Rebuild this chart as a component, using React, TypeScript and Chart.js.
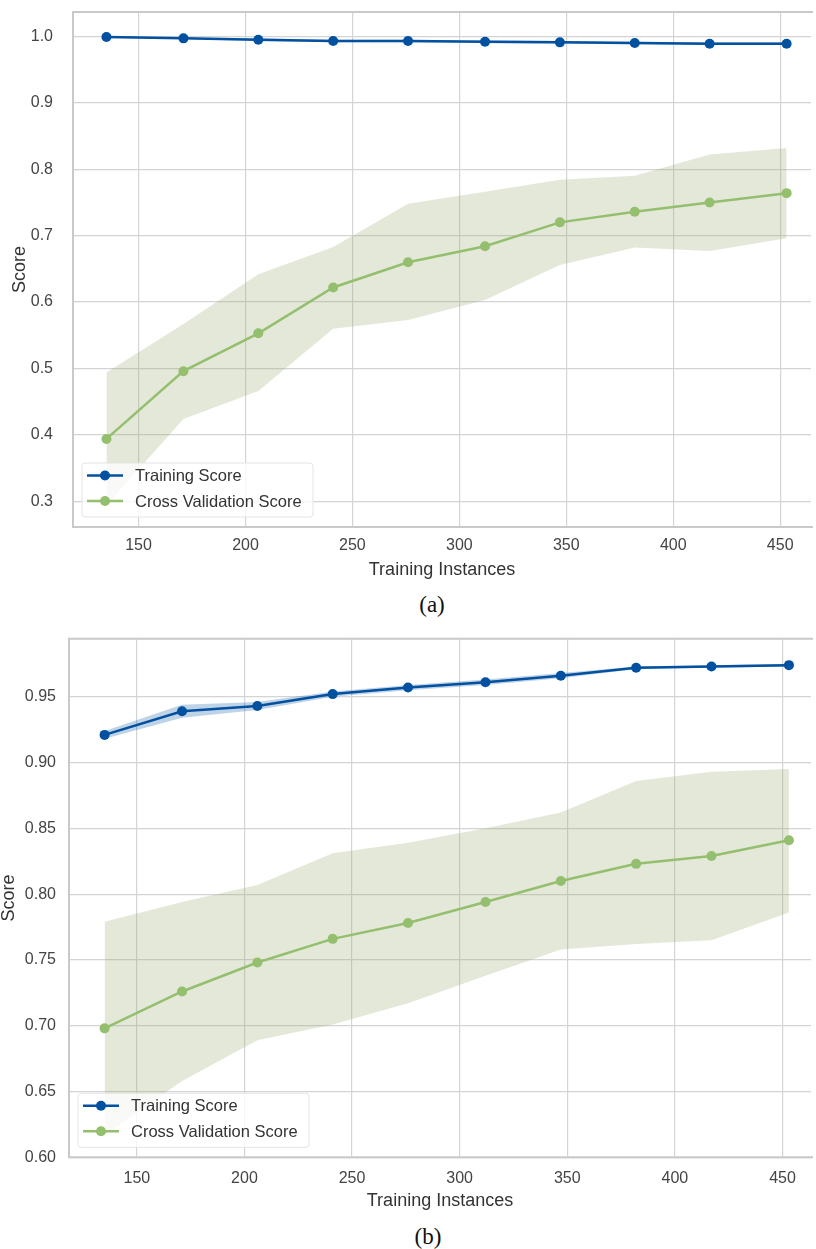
import React, { useEffect, useRef } from "react";
import { Chart, registerables } from "chart.js";

Chart.register(...registerables);

// ---------- data ----------
const SIZES = [135, 171, 206, 241, 276, 312, 347, 382, 417, 453];

const TRAIN_A = [0.999, 0.997, 0.995, 0.993, 0.993, 0.992, 0.991, 0.990, 0.989, 0.989];
const TRAIN_A_UPPER = [1.0, 0.998, 0.997, 0.995, 0.995, 0.994, 0.993, 0.992, 0.991, 0.991];
const TRAIN_A_LOWER = [0.998, 0.996, 0.993, 0.991, 0.991, 0.990, 0.989, 0.988, 0.987, 0.987];
const CV_A = [0.394, 0.496, 0.553, 0.622, 0.660, 0.684, 0.720, 0.736, 0.750, 0.764];
const CV_A_UPPER = [0.494, 0.567, 0.642, 0.683, 0.748, 0.766, 0.784, 0.790, 0.822, 0.832];
const CV_A_LOWER = [0.294, 0.424, 0.466, 0.560, 0.573, 0.603, 0.656, 0.682, 0.677, 0.696];

const TRAIN_B = [0.921, 0.939, 0.943, 0.952, 0.957, 0.961, 0.966, 0.972, 0.973, 0.974];
const TRAIN_B_UPPER = [0.924, 0.944, 0.946, 0.954, 0.959, 0.963, 0.968, 0.973, 0.974, 0.975];
const TRAIN_B_LOWER = [0.918, 0.934, 0.940, 0.950, 0.955, 0.959, 0.964, 0.971, 0.972, 0.973];
const CV_B = [0.698, 0.726, 0.748, 0.766, 0.778, 0.794, 0.810, 0.823, 0.829, 0.841];
const CV_B_UPPER = [0.779, 0.794, 0.807, 0.831, 0.839, 0.850, 0.862, 0.886, 0.893, 0.895];
const CV_B_LOWER = [0.617, 0.658, 0.689, 0.701, 0.717, 0.738, 0.758, 0.762, 0.765, 0.786];

const X_TICKS = [150, 200, 250, 300, 350, 400, 450];
const Y_TICKS_A = [0.3, 0.4, 0.5, 0.6, 0.7, 0.8, 0.9, 1.0];
const Y_TICKS_B = [0.6, 0.65, 0.7, 0.75, 0.8, 0.85, 0.9, 0.95];

const LABEL_TRAIN = "Training Score";
const LABEL_CV = "Cross Validation Score";
const X_TITLE = "Training Instances";
const Y_TITLE = "Score";

// ---------- styles ----------
const BLUE = "#0151A0";
const GREEN = "#94BF6E";
const BLUE_BAND = "rgba(1,81,160,0.25)";
const GREEN_BAND = "rgba(157,170,110,0.27)";
const FONT = "'Liberation Sans', Arial, sans-serif";
const GRID = "#D4D4D4";
const SPINE = "#C9C9C9";

const pts = (ys: number[]) => ys.map((y, i) => ({ x: SIZES[i], y }));

const frameLegendPlugin = {
  id: "frameLegend",
  afterDatasetsDraw(chart: any) {
    const { ctx, chartArea: ca } = chart;
    ctx.save();
    // spines
    ctx.strokeStyle = SPINE;
    ctx.lineWidth = 2;
    ctx.beginPath();
    ctx.moveTo(ca.right + 2, ca.top);
    ctx.lineTo(ca.left, ca.top);
    ctx.lineTo(ca.left, ca.bottom);
    ctx.lineTo(ca.right + 2, ca.bottom);
    ctx.stroke();

    // legend
    const items = [
      { label: LABEL_TRAIN, color: BLUE },
      { label: LABEL_CV, color: GREEN },
    ];
    const w = 231;
    const h = 54;
    const x = ca.left + 9;
    const y = ca.bottom - 10 - h;
    ctx.beginPath();
    if ((ctx as any).roundRect) (ctx as any).roundRect(x, y, w, h, 3);
    else ctx.rect(x, y, w, h);
    ctx.fillStyle = "rgba(255,255,255,0.8)";
    ctx.fill();
    ctx.strokeStyle = "#E4E4E4";
    ctx.lineWidth = 1;
    ctx.stroke();

    items.forEach((it, i) => {
      const ry = y + 12.5 + i * 25.5;
      ctx.strokeStyle = it.color;
      ctx.lineWidth = 2.5;
      ctx.beginPath();
      ctx.moveTo(x + 5, ry);
      ctx.lineTo(x + 41, ry);
      ctx.stroke();
      ctx.fillStyle = it.color;
      ctx.beginPath();
      ctx.arc(x + 23, ry, 5, 0, Math.PI * 2);
      ctx.fill();
      ctx.fillStyle = "#333333";
      ctx.font = `16.5px ${FONT}`;
      ctx.textBaseline = "middle";
      ctx.textAlign = "left";
      ctx.fillText(it.label, x + 53, ry + 1);
    });
    ctx.restore();
  },
};

type Cfg = {
  height: number;
  padTop: number;
  padBottom: number;
  yWidth: number;
  xHeight: number;
  xMin: number;
  xMax: number;
  yMin: number;
  yMax: number;
  yTicks: number[];
  yDecimals: number;
  yTickPad: number;
  xTickPad: number;
  yTitlePad: number;
  train: number[];
  trainUpper: number[];
  trainLower: number[];
  cv: number[];
  cvUpper: number[];
  cvLower: number[];
};

function CurveChart({ cfg }: { cfg: Cfg }) {
  const ref = useRef<HTMLCanvasElement | null>(null);
  useEffect(() => {
    if (!ref.current) return;
    const lineDs = (label: string, data: number[], color: string) => ({
      label,
      data: pts(data),
      borderColor: color,
      backgroundColor: color,
      pointBackgroundColor: color,
      pointBorderColor: color,
      pointBorderWidth: 0,
      pointRadius: 5,
      borderWidth: 2.5,
      fill: false,
      order: 0,
    });
    const bandDs = (data: number[], color: string, fill: any) => ({
      label: "",
      data: pts(data),
      borderColor: "transparent",
      backgroundColor: color,
      borderWidth: 0,
      pointRadius: 0,
      fill,
      order: 5,
    });
    const chart = new Chart(ref.current, {
      type: "line",
      data: {
        datasets: [
          lineDs(LABEL_CV, cfg.cv, GREEN),
          lineDs(LABEL_TRAIN, cfg.train, BLUE),
          bandDs(cfg.cvUpper, GREEN_BAND, "+1"),
          bandDs(cfg.cvLower, GREEN_BAND, false),
          bandDs(cfg.trainUpper, BLUE_BAND, "+1"),
          bandDs(cfg.trainLower, BLUE_BAND, false),
        ] as any,
      },
      options: {
        animation: false,
        responsive: false,
        devicePixelRatio: 1,
        layout: { padding: { left: 0, right: 0, top: cfg.padTop, bottom: cfg.padBottom } },
        plugins: {
          legend: { display: false },
          tooltip: { enabled: false },
        },
        elements: { line: { tension: 0 } },
        scales: {
          x: {
            type: "linear",
            min: cfg.xMin,
            max: cfg.xMax,
            afterBuildTicks: (s: any) => {
              s.ticks = X_TICKS.map((v) => ({ value: v }));
            },
            afterFit: (s: any) => {
              s.height = cfg.xHeight;
            },
            grid: { color: GRID, lineWidth: 1.2, drawTicks: true, tickLength: cfg.xTickPad, tickColor: "transparent" },
            border: { display: false },
            ticks: {
              padding: 0,
              color: "#444444",
              font: { family: FONT, size: 16 },
              maxRotation: 0,
              autoSkip: false,
              callback: (v: any) => String(v),
            },
            title: {
              display: true,
              text: X_TITLE,
              color: "#333333",
              font: { family: FONT, size: 18, lineHeight: 1 },
              padding: { top: 0, bottom: 0 },
            },
          },
          y: {
            type: "linear",
            min: cfg.yMin,
            max: cfg.yMax,
            afterBuildTicks: (s: any) => {
              s.ticks = cfg.yTicks.map((v) => ({ value: v }));
            },
            afterFit: (s: any) => {
              s.width = cfg.yWidth;
            },
            grid: { color: GRID, lineWidth: 1.2, drawTicks: true, tickLength: cfg.yTickPad, tickColor: "transparent" },
            border: { display: false },
            ticks: {
              padding: 0,
              color: "#444444",
              font: { family: FONT, size: 16 },
              autoSkip: false,
              callback: (v: any) => Number(v).toFixed(cfg.yDecimals),
            },
            title: {
              display: true,
              text: Y_TITLE,
              color: "#333333",
              font: { family: FONT, size: 18, lineHeight: 1 },
              padding: { top: cfg.yTitlePad, bottom: 0 },
            },
          },
        },
      } as any,
      plugins: [frameLegendPlugin as any],
    });
    return () => chart.destroy();
  }, [cfg]);
  return <canvas ref={ref} width={816} height={cfg.height} style={{ display: "block" }} />;
}

const CFG_A: Cfg = {
  height: 580,
  padTop: 12,
  padBottom: 1.2,
  yWidth: 73,
  xHeight: 51.8,
  xMin: 119.36,
  xMax: 464.4,
  yMin: 0.2614,
  yMax: 1.0367,
  yTicks: Y_TICKS_A,
  yDecimals: 1,
  yTickPad: 20,
  xTickPad: 9,
  yTitlePad: 11,
  train: TRAIN_A,
  trainUpper: TRAIN_A_UPPER,
  trainLower: TRAIN_A_LOWER,
  cv: CV_A,
  cvUpper: CV_A_UPPER,
  cvLower: CV_A_LOWER,
};

const CFG_B: Cfg = {
  height: 590,
  padTop: 18.7,
  padBottom: 0,
  yWidth: 69,
  xHeight: 52.7,
  xMin: 118.47,
  xMax: 463.25,
  yMin: 0.6,
  yMax: 0.9941,
  yTicks: Y_TICKS_B,
  yDecimals: 2,
  yTickPad: 13,
  xTickPad: 11.4,
  yTitlePad: 0,
  train: TRAIN_B,
  trainUpper: TRAIN_B_UPPER,
  trainLower: TRAIN_B_LOWER,
  cv: CV_B,
  cvUpper: CV_B_UPPER,
  cvLower: CV_B_LOWER,
};

const captionStyle = (cx: number, cy: number): React.CSSProperties => ({
  position: "absolute",
  left: cx - 50,
  top: cy - 12,
  width: 100,
  textAlign: "center",
  fontFamily: "'Liberation Serif', 'Times New Roman', serif",
  fontSize: 23,
  lineHeight: "24px",
  color: "#111",
});

export default function App() {
  return (
    <div style={{ position: "absolute", left: 0, top: 0, width: 816, height: 1249, background: "#fff", overflow: "hidden" }}>
      <div style={{ position: "absolute", left: 0, top: 0 }}>
        <CurveChart cfg={CFG_A} />
      </div>
      <div style={captionStyle(432, 605)}>(a)</div>
      <div style={{ position: "absolute", left: 0, top: 620 }}>
        <CurveChart cfg={CFG_B} />
      </div>
      <div style={captionStyle(428, 1237)}>(b)</div>
    </div>
  );
}
